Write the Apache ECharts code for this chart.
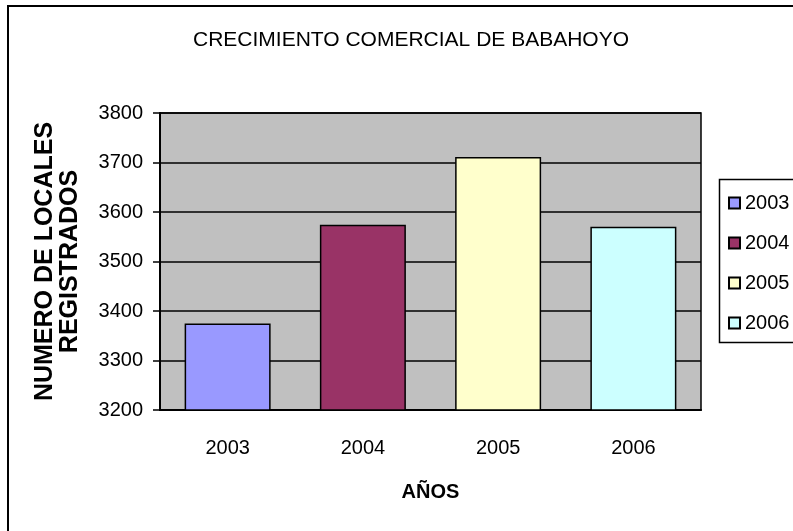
<!DOCTYPE html>
<html>
<head>
<meta charset="utf-8">
<script src="https://cdn.jsdelivr.net/npm/echarts@6/dist/echarts.min.js"></script>
<style>
  html, body { margin: 0; padding: 0; background: #fff; }
  #chart { width: 793px; height: 531px; }
</style>
</head>
<body>
<div id="chart"></div>
<script>
// datos
const years = ['2003', '2004', '2005', '2006'];
const locales = [3375, 3574, 3711, 3570];
const yTicks = { min: 3200, max: 3800, step: 100 };

const barColors = ['#9999FF', '#993366', '#FFFFCC', '#CCFFFF'];
const font = "'Liberation Sans', Arial, sans-serif";

const chart = echarts.init(document.getElementById('chart'));

const series = years.map((year, i) => ({
  name: year,
  type: 'bar',
  barGap: '-100%',
  barWidth: 86,
  data: locales.map((v, j) => (j === i ? v : '-')),
  itemStyle: { color: barColors[i], borderColor: '#000', borderWidth: 1.5 }
}));

chart.setOption({
  animation: false,
  backgroundColor: '#fff',
  textStyle: { fontFamily: font },
  title: {
    text: 'CRECIMIENTO COMERCIAL DE BABAHOYO',
    left: 406,
    textAlign: 'center',
    top: 25,
    textStyle: { fontSize: 21, fontWeight: 'normal', color: '#000', fontFamily: font }
  },
  graphic: [
    {
      type: 'rect',
      shape: { x: 8, y: 6, width: 900, height: 600 },
      style: { fill: 'none', stroke: '#000', lineWidth: 2 },
      z: 100
    },
    {
      type: 'rect',
      shape: { x: 719.5, y: 179.5, width: 120, height: 163 },
      style: { fill: '#fff', stroke: '#000', lineWidth: 1.5 },
      z: 0
    }
  ],
  legend: {
    orient: 'vertical',
    left: 728,
    top: 193,
    padding: 0,
    itemWidth: 11,
    itemHeight: 11,
    itemGap: 20,
    icon: 'rect',
    data: years,
    textStyle: { fontSize: 20, lineHeight: 20, color: '#000', fontFamily: font },
    z: 10
  },
  grid: {
    left: 160,
    top: 113,
    right: 92,
    bottom: 121,
    show: true,
    backgroundColor: '#C0C0C0',
    borderColor: '#000',
    borderWidth: 1.5
  },
  xAxis: {
    type: 'category',
    data: years,
    name: 'AÑOS',
    nameLocation: 'middle',
    nameGap: 72,
    nameTextStyle: { fontSize: 20, fontWeight: 'bold', color: '#000', fontFamily: font },
    axisLine: { lineStyle: { color: '#000', width: 2 } },
    axisTick: { length: 8, lineStyle: { color: '#000', width: 1.5 } },
    axisLabel: { fontSize: 20, color: '#000', margin: 28 }
  },
  yAxis: {
    type: 'value',
    min: yTicks.min,
    max: yTicks.max,
    interval: yTicks.step,
    name: 'NUMERO DE LOCALES\nREGISTRADOS',
    nameLocation: 'middle',
    nameRotate: 90,
    nameGap: 77,
    nameTextStyle: { fontSize: 25, fontWeight: 'bold', color: '#000', lineHeight: 25, fontFamily: font },
    axisLine: { show: true, lineStyle: { color: '#000', width: 2 } },
    axisTick: { show: true, length: 7, lineStyle: { color: '#000', width: 1.5 } },
    axisLabel: { fontSize: 20, color: '#000', margin: 17, formatter: v => String(v) },
    splitLine: { lineStyle: { color: '#000', width: 1.5 } }
  },
  series: series
});
</script>
</body>
</html>
